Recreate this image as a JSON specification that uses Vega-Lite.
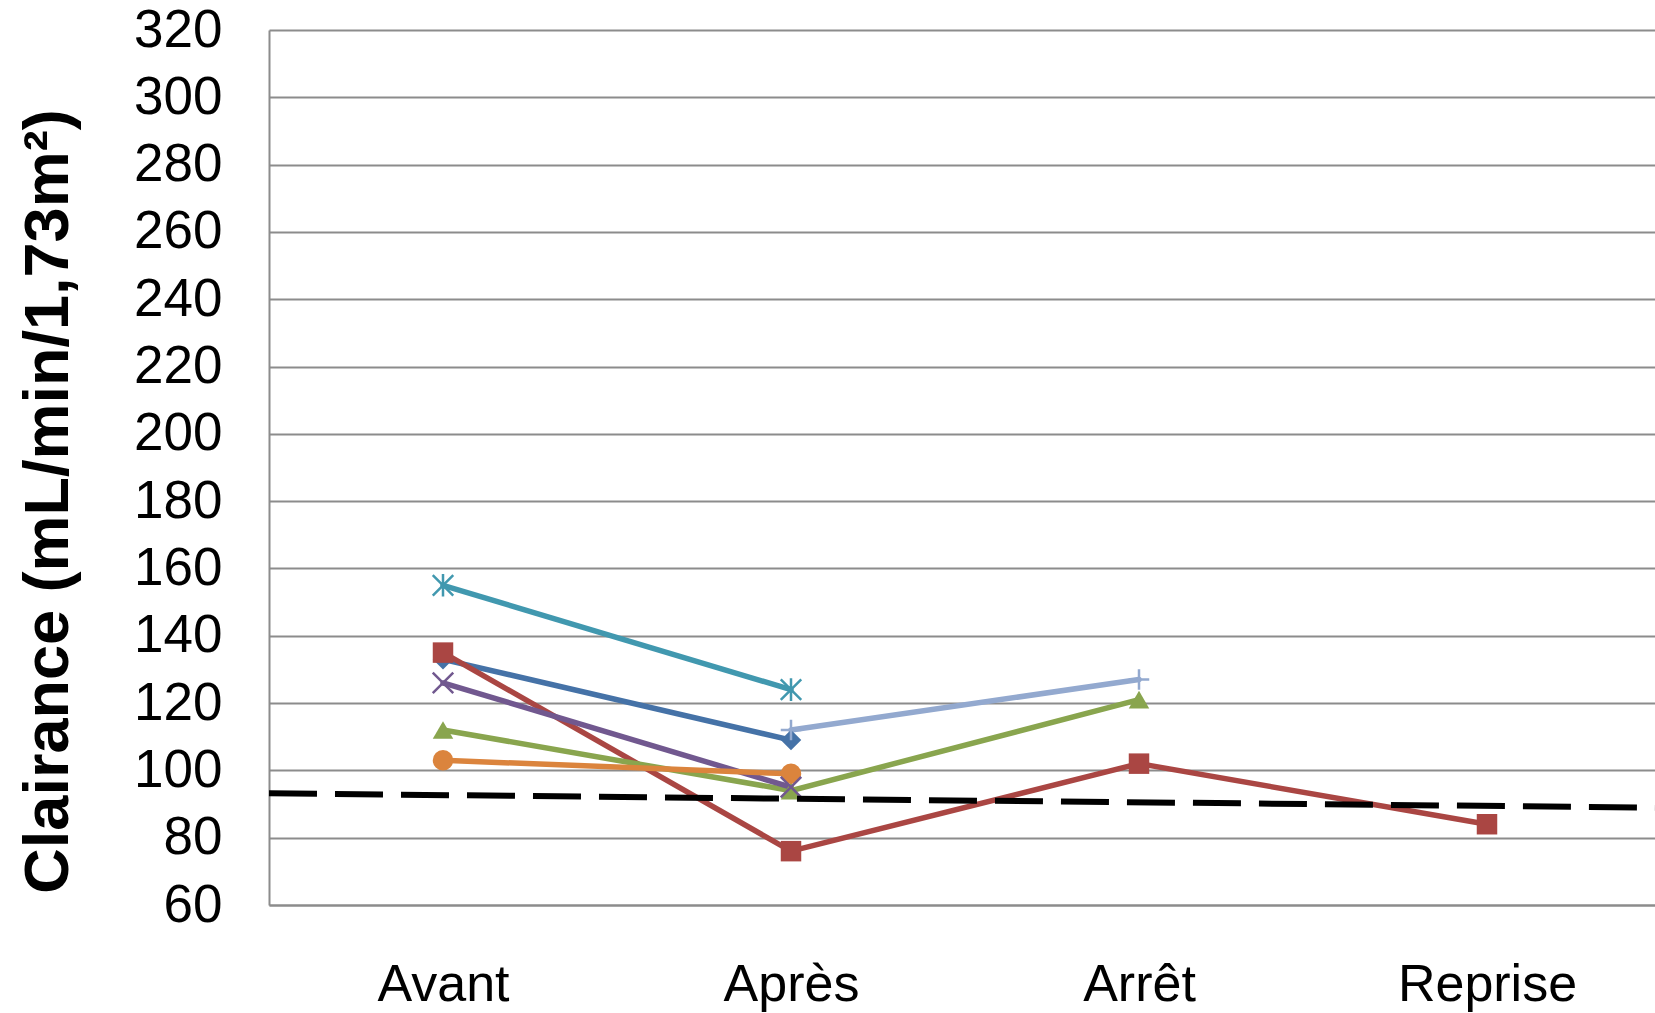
{
  "$schema": "https://vega.github.io/schema/vega-lite/v6.json",
  "autosize": {"type": "none"},
  "padding": {"left": 269, "top": 30, "right": 0, "bottom": 108},
  "width": 1392,
  "height": 875,
  "background": "white",
  "config": {
    "view": {"stroke": null},
    "font": "Liberation Sans"
  },
  "datasets": {
    "mesures": [
      {"patient": "P1", "periode": "Avant", "clairance": 133},
      {"patient": "P1", "periode": "Après", "clairance": 109},
      {"patient": "P2", "periode": "Avant", "clairance": 135},
      {"patient": "P2", "periode": "Après", "clairance": 76},
      {"patient": "P2", "periode": "Arrêt", "clairance": 102},
      {"patient": "P2", "periode": "Reprise", "clairance": 84},
      {"patient": "P3", "periode": "Avant", "clairance": 112},
      {"patient": "P3", "periode": "Après", "clairance": 94},
      {"patient": "P3", "periode": "Arrêt", "clairance": 121},
      {"patient": "P4", "periode": "Avant", "clairance": 126},
      {"patient": "P4", "periode": "Après", "clairance": 95},
      {"patient": "P5", "periode": "Avant", "clairance": 155},
      {"patient": "P5", "periode": "Après", "clairance": 124},
      {"patient": "P6", "periode": "Avant", "clairance": 103},
      {"patient": "P6", "periode": "Après", "clairance": 99},
      {"patient": "P7", "periode": "Après", "clairance": 112},
      {"patient": "P7", "periode": "Arrêt", "clairance": 127}
    ],
    "seuil": [
      {"pos": 0, "clairance": 93.2},
      {"pos": 1, "clairance": 88.9}
    ]
  },
  "layer": [
    {
      "data": {"name": "mesures"},
      "encoding": {
        "x": {
          "field": "periode",
          "type": "ordinal",
          "sort": ["Avant", "Après", "Arrêt", "Reprise"],
          "scale": {"type": "point", "domain": ["Avant", "Après", "Arrêt", "Reprise"], "padding": 0.5},
          "axis": {
            "title": null,
            "labelAngle": 0,
            "labelFontSize": 52,
            "labelColor": "#000000",
            "labelPadding": 54,
            "ticks": false,
            "tickSize": 0,
            "grid": false,
            "domain": true,
            "domainColor": "#8c8c8c",
            "domainWidth": 2
          }
        },
        "y": {
          "field": "clairance",
          "type": "quantitative",
          "scale": {"domain": [60, 320], "nice": false, "zero": false},
          "axis": {
            "title": "Clairance (mL/min/1,73m²)",
            "titleFontSize": 63,
            "titleFontWeight": "bold",
            "titleColor": "#000000",
            "titleAngle": -90,
            "titleAlign": "center",
            "titleBaseline": "alphabetic",
            "titleX": -202,
            "titleY": 471,
            "values": [60, 80, 100, 120, 140, 160, 180, 200, 220, 240, 260, 280, 300, 320],
            "labelFontSize": 53,
            "labelColor": "#000000",
            "labelPadding": 47,
            "ticks": false,
            "tickSize": 0,
            "grid": true,
            "gridColor": "#8c8c8c",
            "gridWidth": 2,
            "domain": true,
            "domainColor": "#8c8c8c",
            "domainWidth": 2
          }
        },
        "color": {
          "field": "patient",
          "type": "nominal",
          "scale": {
            "domain": ["P1", "P2", "P3", "P4", "P5", "P6", "P7"],
            "range": ["#4572A7", "#AA4643", "#89A54E", "#71588F", "#4198AF", "#DB843D", "#93A9CF"]
          },
          "legend": null
        },
        "shape": {
          "field": "patient",
          "type": "nominal",
          "scale": {
            "domain": ["P1", "P2", "P3", "P4", "P5", "P6", "P7"],
            "range": [
              "diamond",
              "square",
              "triangle-up",
              "M-1,-1L1,1M-1,1L1,-1",
              "M-1,-1L1,1M-1,1L1,-1M0,-1.1L0,1.1",
              "circle",
              "M-1,0L1,0M0,-1L0,1"
            ]
          },
          "legend": null
        }
      },
      "layer": [
        {
          "mark": {"type": "line", "strokeWidth": 5.5},
          "encoding": {"shape": {"value": null}}
        },
        {
          "transform": [{"filter": {"field": "patient", "oneOf": ["P1", "P2", "P3", "P6"]}}],
          "mark": {"type": "point", "filled": true, "size": 420, "opacity": 1}
        },
        {
          "transform": [{"filter": {"field": "patient", "oneOf": ["P4", "P5", "P7"]}}],
          "mark": {"type": "point", "filled": false, "size": 420, "strokeWidth": 2.5, "opacity": 1}
        }
      ]
    },
    {
      "data": {"name": "seuil"},
      "mark": {"type": "line", "color": "#000000", "strokeWidth": 6, "strokeDash": [48, 18]},
      "encoding": {
        "x": {"field": "pos", "type": "quantitative", "scale": {"domain": [0, 1]}, "axis": null},
        "y": {"field": "clairance", "type": "quantitative"}
      }
    }
  ],
  "resolve": {"scale": {"x": "independent"}}
}
